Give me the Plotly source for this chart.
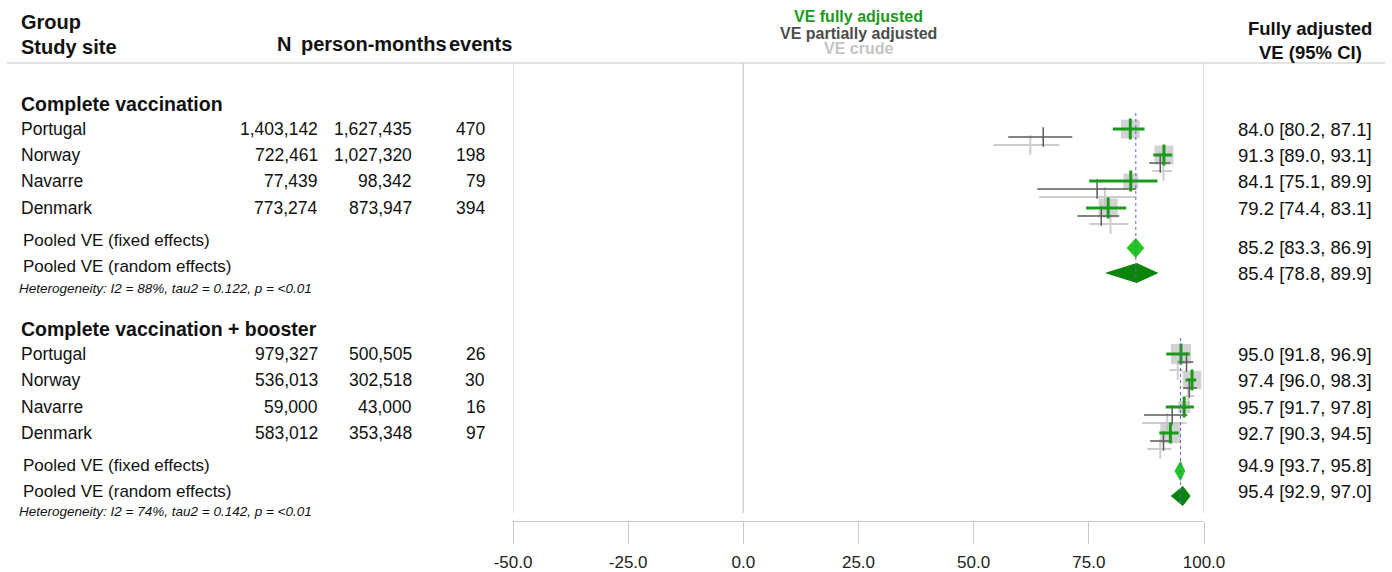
import plotly.graph_objects as go

# ---------------- data ----------------
sites = ["Portugal", "Norway", "Navarre", "Denmark"]
groups = ["Complete vaccination", "Complete vaccination + booster"]

n_complete = [1403142, 722461, 77439, 773274]
pm_complete = [1627435, 1027320, 98342, 873947]
events_complete = [470, 198, 79, 394]
weight_complete = [27, 28, 17, 28]
full_complete = [84.0, 91.3, 84.1, 79.2]
full_lo_complete = [80.2, 89.0, 75.1, 74.4]
full_hi_complete = [87.1, 93.1, 89.9, 83.1]
partial_complete = [65.1, 90.5, 76.8, 77.7]
partial_lo_complete = [57.5, 88.1, 63.8, 72.5]
partial_hi_complete = [71.4, 92.7, 85.3, 81.6]
crude_complete = [62.3, 91.2, 78.5, 79.7]
crude_lo_complete = [54.3, 88.8, 64.2, 75.1]
crude_hi_complete = [68.6, 93.1, 85.3, 83.6]

n_booster = [979327, 536013, 59000, 583012]
pm_booster = [500505, 302518, 43000, 353348]
events_booster = [26, 30, 16, 97]
weight_booster = [31, 26, 11, 32]
full_booster = [95.0, 97.4, 95.7, 92.7]
full_lo_booster = [91.8, 96.0, 91.7, 90.3]
full_hi_booster = [96.9, 98.3, 97.8, 94.5]
partial_booster = [96.2, 96.8, 93.1, 91.2]
partial_lo_booster = [94.4, 95.5, 87.0, 88.3]
partial_hi_booster = [97.7, 98.5, 96.4, 93.1]
crude_booster = [94.3, 96.6, 92.0, 90.5]
crude_lo_booster = [92.5, 96.0, 86.6, 87.7]
crude_hi_booster = [95.5, 97.9, 96.2, 92.9]

# pooled estimates: (estimate, lower, upper)
pooled_fixed = [(85.2, 83.3, 86.9), (94.9, 93.7, 95.8)]
pooled_random = [(85.4, 78.8, 89.9), (95.4, 92.9, 97.0)]
heterogeneity = [
    "Heterogeneity: I2 = 88%, tau2 = 0.122, p = <0.01",
    "Heterogeneity: I2 = 74%, tau2 = 0.142, p = <0.01",
]

tick_values = [-50, -25, 0, 25, 50, 75, 100]

# ---------------- layout constants ----------------
W, H = 1392, 572
X_LEFT, X_RIGHT = 513, 1204          # pixel extent of the VE axis
AXIS_Y = 521
FONT = "Liberation Sans, Arial, sans-serif"
NARROW = "Liberation Sans Narrow, Arial Narrow, Liberation Sans, Arial, sans-serif"

GREEN = "#1a9a1a"
GREEN_FIXED = "#1fc71f"
GREEN_RANDOM = "#0a850a"
DARK = "#5a5a5a"
LIGHT = "#cdcdcd"
SQUARE = "#bfbfbf"
GRID = "#c8c8c8"

header_y = [104, 329]
row_y = [[129, 155, 181, 208], [354, 380, 407, 433]]
pooled_label_y = [(240, 266), (465, 491)]
pooled_mark_y = [(248, 273), (471, 496)]
pooled_text_y = [(248, 273), (465, 491)]
het_y = [288, 511]
dot_span = [(113, 283), (338, 505)]
PARTIAL_OFF, CRUDE_OFF = 8, 16
CI_TEXT_RIGHT = 1373


def px(x):
    return x / W


def py(y):
    return 1 - y / H


study_data = [
    dict(n=n_complete, pm=pm_complete, ev=events_complete, w=weight_complete,
         full=(full_complete, full_lo_complete, full_hi_complete),
         partial=(partial_complete, partial_lo_complete, partial_hi_complete),
         crude=(crude_complete, crude_lo_complete, crude_hi_complete)),
    dict(n=n_booster, pm=pm_booster, ev=events_booster, w=weight_booster,
         full=(full_booster, full_lo_booster, full_hi_booster),
         partial=(partial_booster, partial_lo_booster, partial_hi_booster),
         crude=(crude_booster, crude_lo_booster, crude_hi_booster)),
]

fig = go.Figure()


def ci_traces(est, lo, hi, ys, color, width, tick_size):
    xs, yy = [], []
    for a, b, y in zip(lo, hi, ys):
        xs += [a, b, None]
        yy += [y, y, None]
    fig.add_trace(go.Scatter(x=xs, y=yy, mode="lines", hoverinfo="skip",
                             line=dict(color=color, width=width), showlegend=False))
    fig.add_trace(go.Scatter(x=est, y=ys, mode="markers", hoverinfo="skip", showlegend=False,
                             marker=dict(symbol="line-ns", size=tick_size,
                                         line=dict(color=color, width=width))))


for g, d in enumerate(study_data):
    ys = row_y[g]
    ci_traces(*d["crude"], [y + CRUDE_OFF for y in ys], LIGHT, 2, 14)
    sizes = [3.6 * (w ** 0.5) for w in d["w"]]
    fig.add_trace(go.Scatter(x=d["full"][0], y=ys, mode="markers", hoverinfo="skip",
                             showlegend=False,
                             marker=dict(symbol="square", size=sizes, color=SQUARE,
                                         line=dict(width=0))))
    ci_traces(*d["partial"], [y + PARTIAL_OFF for y in ys], DARK, 1.5, 14)
    ci_traces(*d["full"], ys, GREEN, 3, 15)

    # pooled diamonds
    for (est, lo, hi), y, col in [(pooled_fixed[g], pooled_mark_y[g][0], GREEN_FIXED),
                                  (pooled_random[g], pooled_mark_y[g][1], GREEN_RANDOM)]:
        h = 9.5
        fig.add_trace(go.Scatter(x=[lo, est, hi, est, lo], y=[y, y - h, y, y + h, y],
                                 mode="lines", fill="toself", fillcolor=col,
                                 line=dict(color=col, width=1), hoverinfo="skip",
                                 showlegend=False))

shapes = []
# header rule
shapes.append(dict(type="line", xref="paper", yref="paper", x0=px(7), x1=px(1385),
                   y0=py(63), y1=py(63), line=dict(color=GRID, width=1.2)))
# reference verticals
for v in (-50, 0, 100):
    shapes.append(dict(type="line", xref="x", yref="y", x0=v, x1=v, y0=63, y1=513,
                       line=dict(color=GRID, width=1.2), layer="below"))
# dotted line at the fixed-effects estimate
for g in range(2):
    shapes.append(dict(type="line", xref="x", yref="y", x0=pooled_fixed[g][0],
                       x1=pooled_fixed[g][0], y0=dot_span[g][0], y1=dot_span[g][1],
                       line=dict(color="#6a5fd0", width=1, dash="dot"), layer="above"))

ann = []


def txt(x, y, s, size, anchor="left", color="#111111", family=FONT):
    ann.append(dict(x=px(x), y=py(y), xref="paper", yref="paper", text=s, showarrow=False,
                    xanchor=anchor, yanchor="middle", borderpad=0,
                    font=dict(size=size, color=color, family=family)))


# column headers
txt(20, 22, "<b>Group</b>", 20)
txt(20, 47, "<b>Study site</b>", 20)
txt(292, 44, "<b>N</b>", 20, "right")
txt(300, 44, "<b>person-months</b>", 20)
txt(513, 44, "<b>events</b>", 20, "right")
txt(858, 17, "<b>VE fully adjusted</b>", 16, "center", GREEN, NARROW)
txt(858, 33, "<b>VE partially adjusted</b>", 16, "center", "#4d4d4d", NARROW)
txt(858, 49, "<b>VE crude</b>", 16, "center", "#c4c4c4", NARROW)
txt(1310, 28, "<b>Fully adjusted</b>", 18.5, "center")
txt(1310, 52, "<b>VE (95% CI)</b>", 18.5, "center")

for g, d in enumerate(study_data):
    txt(20, header_y[g], f"<b>{groups[g]}</b>", 19.5)
    for i, site in enumerate(sites):
        y = row_y[g][i]
        txt(20, y, site, 17.5)
        txt(319, y, f"{d['n'][i]:,}", 17.5, "right")
        txt(413, y, f"{d['pm'][i]:,}", 17.5, "right")
        txt(486, y, f"{d['ev'][i]}", 17.5, "right")
        est, lo, hi = d["full"][0][i], d["full"][1][i], d["full"][2][i]
        txt(CI_TEXT_RIGHT, y, f"{est:.1f} [{lo:.1f}, {hi:.1f}]", 18.5, "right")
    txt(22, pooled_label_y[g][0], "Pooled VE (fixed effects)", 17)
    txt(22, pooled_label_y[g][1], "Pooled VE (random effects)", 17)
    for (est, lo, hi), y in [(pooled_fixed[g], pooled_text_y[g][0]),
                             (pooled_random[g], pooled_text_y[g][1])]:
        txt(CI_TEXT_RIGHT, y, f"{est:.1f} [{lo:.1f}, {hi:.1f}]", 18.5, "right")
    txt(18, het_y[g], f"<i>{heterogeneity[g]}</i>", 13.5)

fig.update_layout(
    width=W, height=H, margin=dict(l=0, r=0, t=0, b=0, pad=0, autoexpand=False),
    paper_bgcolor="white", plot_bgcolor="white",
    shapes=shapes, annotations=ann, showlegend=False,
    xaxis=dict(domain=[X_LEFT / W, X_RIGHT / W], range=[-50, 100], anchor="free",
               position=(H - AXIS_Y) / H, tickvals=tick_values,
               ticktext=[f"{v:.1f}" for v in tick_values],
               showline=True, linecolor=GRID, linewidth=1.2, ticks="outside",
               ticklen=22, tickcolor=GRID, tickwidth=1.2, showgrid=False, zeroline=False,
               tickfont=dict(size=17, color="#222222", family=NARROW),
               ticklabelstandoff=3, automargin=False),
    yaxis=dict(domain=[0, 1], range=[H, 0], visible=False, showgrid=False, zeroline=False,
               automargin=False),
)

fig.write_html("out.html")
